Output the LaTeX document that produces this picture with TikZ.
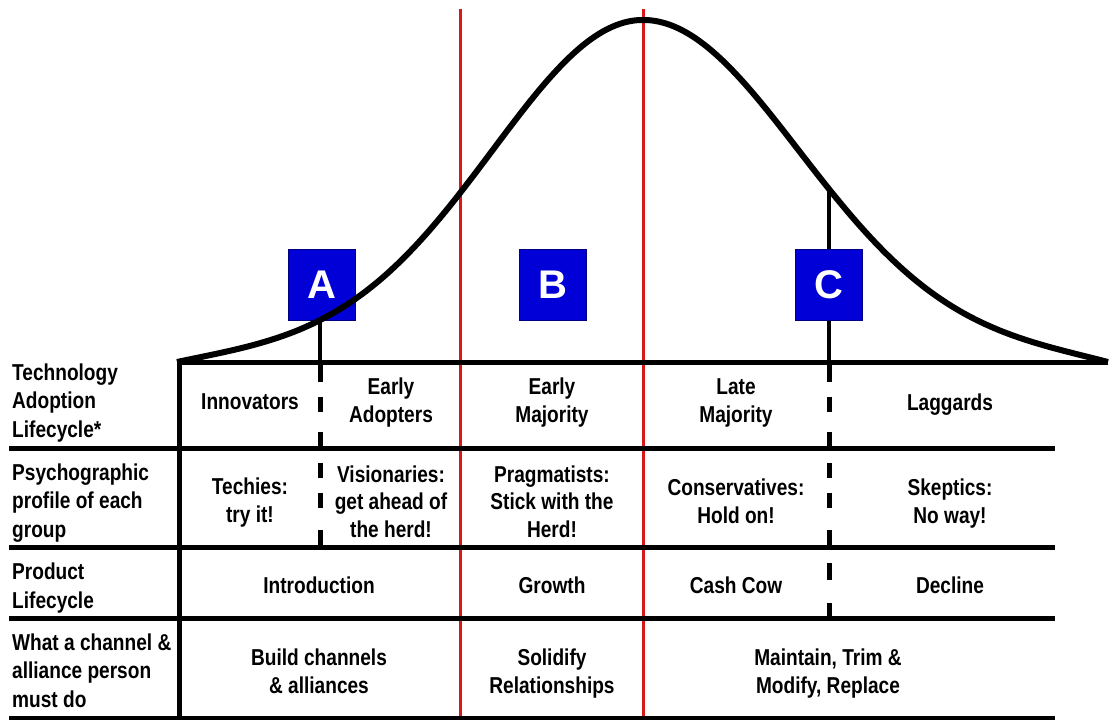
\documentclass[tikz,border=0pt]{standalone}
\usepackage{fontspec}
\newfontfamily\tabfont{Liberation Sans}[FakeStretch=0.83]
\newfontfamily\boxfont{Liberation Sans}
\definecolor{redline}{RGB}{215,25,25}
\definecolor{boxblue}{RGB}{0,0,215}

\begin{document}
\begin{tikzpicture}[
	x=1pt, y=-1pt,
	cell/.style = {font={\tabfont\bfseries\fontsize{23}{27.5}\selectfont}, align=center, anchor=base, inner sep=0pt},
	lbl/.style = {font={\tabfont\bfseries\fontsize{23}{28.5}\selectfont}, align=left, anchor=base west, inner sep=0pt},
	box/.style = {rectangle, draw=boxblue!60!black, line width=1pt, fill=boxblue, minimum width=67, minimum height=71, inner sep=0pt, text=white, font={\boxfont\bfseries\fontsize{40}{40}\selectfont}},
	rule/.style = {line width=5pt},
	thin/.style = {line width=3.5pt},
	red/.style = {line width=3pt, draw=redline},
	curve/.style = {line width=6pt, line join=round}
	]
	
	\useasboundingbox[fill=white] (0,0) rectangle (1109,720);
	
	% === === === Coordinates === === ===
	\coordinate (A-top)	at (320,322);
	\coordinate (A-base)	at (320,362);
	\coordinate (A-end)	at (320,547);
	\coordinate (C-top)	at (829,190);
	\coordinate (C-base)	at (829,362);
	\coordinate (C-end)	at (829,618);
	
	% === === === Lines === === ===
	\draw[red] (460,9) -- (460,720);
	\draw[red] (643,9) -- (643,720);
	
	\draw[rule] (177,362) -- (1108,362);
	\draw[rule] (9,448) -- (1055,448);
	\draw[rule] (9,547) -- (1055,547);
	\draw[rule] (9,618) -- (1055,618);
	\draw[rule] (9,718) -- (1055,718);
	\draw[rule] (179,360) -- (179,720);
	
	\draw[thin] (A-top) -- (A-base);
	\draw[thin] (C-top) -- (C-base);
	
	\draw[rule, dash pattern=on 20pt off 15pt on 15pt off 20pt on 20pt] (A-base) -- (320,448);
	\draw[rule, dash pattern=on 0pt off 15pt on 15pt off 15pt on 15pt off 22pt on 20pt] (320,448) -- (A-end);
	\draw[rule, dash pattern=on 20pt off 15pt on 15pt off 20pt on 20pt] (C-base) -- (829,448);
	\draw[rule, dash pattern=on 0pt off 15pt on 15pt off 15pt on 15pt off 22pt on 20pt] (829,448) -- (829,547);
	\draw[rule, dash pattern=on 0pt off 16pt on 17pt off 23pt on 20pt] (829,547) -- (C-end);
	
	% === === === Boxes === === ===
	\node[box]	(A)	at	(321.5,284.5)	{A};
	\node[box]	(B)	at	(552.5,284.5)	{B};
	\node[box]	(C)	at	(829,284.5)	{C};
	
	% === === === Curve === === ===
	\draw[curve] plot[domain=177:643, samples=120, smooth] (\x, {362-342*(0.9*exp(-((\x-643)/148)*((\x-643)/148)/2)+0.1*exp(-((\x-643)/240)*((\x-643)/240)/2))+7.35*(abs(\x-643)/466)^8})
		-- plot[domain=643:1108, samples=120, smooth] (\x, {362-342*(0.9*exp(-((\x-643)/153)*((\x-643)/153)/2)+0.1*exp(-((\x-643)/250)*((\x-643)/250)/2))+9.1*(abs(\x-643)/465)^8});
	
	% === === === Labels === === ===
	\node[lbl]	(lab-1)	at	(12,437)	{Technology\\Adoption\\Lifecycle*};
	\node[lbl]	(lab-2)	at	(12,537)	{Psychographic\\profile of each\\group};
	\node[lbl]	(lab-3)	at	(12,608)	{Product\\Lifecycle};
	\node[lbl]	(lab-4)	at	(12,707)	{What a channel \&\\alliance person\\must do};
	
	% === === === Cells === === ===
	\node[cell]	(1-1)	at	(250,409)	{Innovators};
	\node[cell]	(1-2)	at	(391,422)	{Early\\Adopters};
	\node[cell]	(1-3)	at	(552,422)	{Early\\Majority};
	\node[cell]	(1-4)	at	(736,422)	{Late\\Majority};
	\node[cell]	(1-5)	at	(950,410)	{Laggards};
	
	\node[cell]	(2-1)	at	(250,522)	{Techies:\\try it!};
	\node[cell]	(2-2)	at	(391,537)	{Visionaries:\\get ahead of\\the herd!};
	\node[cell]	(2-3)	at	(552,537)	{Pragmatists:\\Stick with the\\Herd!};
	\node[cell]	(2-4)	at	(736,523)	{Conservatives:\\Hold on!};
	\node[cell]	(2-5)	at	(950,523)	{Skeptics:\\No way!};
	
	\node[cell]	(3-1)	at	(319,593)	{Introduction};
	\node[cell]	(3-2)	at	(552,593)	{Growth};
	\node[cell]	(3-3)	at	(736,593)	{Cash Cow};
	\node[cell]	(3-4)	at	(950,593)	{Decline};
	
	\node[cell]	(4-1)	at	(319,693)	{Build channels\\\& alliances};
	\node[cell]	(4-2)	at	(552,693)	{Solidify\\Relationships};
	\node[cell]	(4-3)	at	(828,693)	{Maintain, Trim \&\\Modify, Replace};
	
\end{tikzpicture}
\end{document}
